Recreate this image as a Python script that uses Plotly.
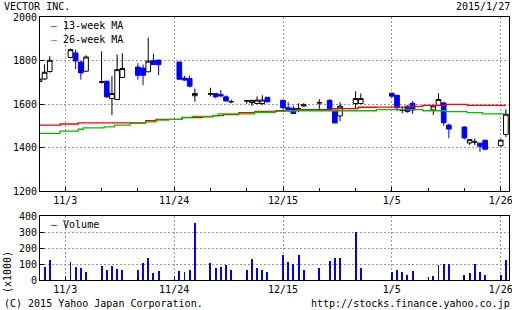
import plotly.graph_objects as go

# ---------------- data ----------------
dates = ["2014-10-29", "2014-10-30", "2014-10-31",
         "2014-11-04", "2014-11-05", "2014-11-06", "2014-11-07",
         "2014-11-10", "2014-11-11", "2014-11-12", "2014-11-13", "2014-11-14",
         "2014-11-17", "2014-11-18", "2014-11-19", "2014-11-20", "2014-11-21",
         "2014-11-25", "2014-11-26", "2014-11-27", "2014-11-28",
         "2014-12-01", "2014-12-02", "2014-12-03", "2014-12-04", "2014-12-05",
         "2014-12-08", "2014-12-09", "2014-12-10", "2014-12-11", "2014-12-12",
         "2014-12-15", "2014-12-16", "2014-12-17", "2014-12-18", "2014-12-19",
         "2014-12-22", "2014-12-24", "2014-12-25", "2014-12-26",
         "2014-12-29", "2014-12-30",
         "2015-01-05", "2015-01-06", "2015-01-07", "2015-01-08", "2015-01-09",
         "2015-01-13", "2015-01-14", "2015-01-15", "2015-01-16",
         "2015-01-19", "2015-01-20", "2015-01-21", "2015-01-22", "2015-01-23",
         "2015-01-26", "2015-01-27"]

open_ = [1703, 1715, 1749,
         1814, 1835, 1793, 1751,
         1700, 1705, 1625, 1621, 1722,
         1770, 1765, 1748, 1800, 1802,
         1793, 1719, 1717, 1638,
         1645, 1648, 1644, 1633, 1610,
         1614, 1606, 1602, 1602, 1631,
         1617, 1583, 1580, 1578, 1591,
         1605, 1617, 1565, 1545,
         1602, 1602,
         1650, 1640, 1571, 1590, 1603,
         1573, 1594, 1605, 1503,
         1494, 1421, 1425, 1420, 1433,
         1408, 1460]
high = [1728, 1783, 1820,
        1855, 1851, 1797, 1824,
        1842, 1706, 1728, 1828, 1834,
        1788, 1782, 1905, 1832, 1803,
        1795, 1730, 1732, 1671,
        1675, 1650, 1665, 1640, 1620,
        1616, 1618, 1635, 1640, 1632,
        1620, 1610, 1592, 1603, 1604,
        1622, 1622, 1580, 1608,
        1659, 1648,
        1650, 1641, 1588, 1594, 1614,
        1592, 1650, 1610, 1510,
        1498, 1437, 1441, 1421, 1437,
        1437, 1575]
low = [1700, 1712, 1745,
       1810, 1760, 1712, 1748,
       1694, 1628, 1549, 1618, 1720,
       1712, 1686, 1746, 1780, 1732,
       1712, 1706, 1676, 1610,
       1635, 1627, 1632, 1612, 1603,
       1601, 1591, 1600, 1595, 1608,
       1574, 1562, 1555, 1563, 1588,
       1574, 1567, 1512, 1522,
       1580, 1600,
       1630, 1567, 1556, 1560, 1554,
       1550, 1590, 1500, 1442,
       1437, 1412, 1411, 1380, 1388,
       1405, 1448]
close = [1715, 1746, 1801,
         1850, 1798, 1743, 1816,
         1702, 1633, 1648, 1758, 1763,
         1732, 1732, 1797, 1782, 1781,
         1714, 1710, 1682, 1648,
         1647, 1633, 1637, 1614, 1611,
         1615, 1617, 1618, 1618, 1610,
         1583, 1570, 1556, 1579, 1596,
         1606, 1572, 1513, 1590,
         1625, 1625,
         1636, 1583, 1572, 1565, 1572,
         1591, 1621, 1514, 1485,
         1444, 1436, 1426, 1406, 1392,
         1434, 1553]

ma13 = [1503, 1503, 1503,
        1508, 1508, 1513, 1513,
        1513, 1513, 1513, 1513, 1513,
        1513, 1513, 1523, 1523, 1529,
        1529, 1537, 1537, 1537,
        1541, 1545, 1547, 1551, 1551,
        1560, 1560, 1566, 1566, 1566,
        1569, 1569, 1569, 1574, 1574,
        1574, 1574, 1579, 1579,
        1579, 1585,
        1586, 1586, 1586, 1586, 1589,
        1594, 1594, 1594, 1598,
        1598, 1594, 1594, 1594, 1594,
        1594, 1594]
ma26 = [1465, 1465, 1465,
        1475, 1475, 1484, 1490,
        1490, 1495, 1495, 1503, 1503,
        1511, 1511, 1518, 1518, 1526,
        1529, 1538, 1538, 1543,
        1543, 1548, 1555, 1555, 1555,
        1555, 1555, 1562, 1562, 1562,
        1566, 1569, 1569, 1569, 1569,
        1569, 1569, 1569, 1569,
        1569, 1569,
        1574, 1574, 1574, 1574, 1574,
        1569, 1569, 1569, 1565,
        1565, 1560, 1560, 1560, 1555,
        1555, 1555]

volume = [48, 79, 126,
          114, 83, 77, 52,
          89, 60, 89, 70, 64,
          64, 108, 139, 46, 58,
          58, 52, 64, 356,
          108, 77, 83, 95, 64,
          64, 133, 77, 64, 52,
          157, 113, 101, 157, 64,
          76, 120, 138, 138,
          301, 76,
          52, 64, 52, 33, 58,
          27, 95, 101, 101,
          33, 45, 101, 52, 33,
          33, 126]

x_tick_dates = ["2014-11-03", "2014-11-24", "2014-12-15", "2015-01-05", "2015-01-26"]
x_tick_labels = ["11/3", "11/24", "12/15", "1/5", "1/26"]
x_minor_dates = ["2014-11-10", "2014-11-17", "2014-12-01", "2014-12-08",
                 "2014-12-22", "2014-12-29", "2015-01-12", "2015-01-19"]
price_ticks = [1200, 1400, 1600, 1800, 2000]
volume_ticks = [0, 100, 200, 300, 400]
x_range = ["2014-10-29 02:51", "2015-01-27 14:26"]

title_text = "VECTOR INC."
date_text = "2015/1/27"
copyright_text = "(C) 2015 Yahoo Japan Corporation."
url_text = "http://stocks.finance.yahoo.co.jp"

# ---------------- layout helpers ----------------
W, H = 512, 310
ML, MR, MT, MB = 40, 3, 17, 30
PW, PH = W - ML - MR, H - MT - MB


def px(x):
    return (x - ML) / PW


def py(y):
    return (H - MB - y) / PH


FONT = "DejaVu Sans Mono"
DAY = 86400000
BLUE = "#0000ff"
RED = "#ff0000"
GREEN = "#00c000"
GRID = "#999999"

fig = go.Figure()

fig.add_trace(go.Candlestick(
    x=dates, open=open_, high=high, low=low, close=close,
    increasing=dict(line=dict(color="black", width=1), fillcolor="white"),
    decreasing=dict(line=dict(color=BLUE, width=1), fillcolor=BLUE),
    whiskerwidth=0, showlegend=False, xaxis="x", yaxis="y", name="VECTOR INC.",
))
fig.add_trace(go.Scatter(
    x=dates, y=ma13, mode="lines", line=dict(color=RED, width=1.3, shape="hvh"),
    name="13-week MA", showlegend=False, xaxis="x", yaxis="y",
))
fig.add_trace(go.Scatter(
    x=dates, y=ma26, mode="lines", line=dict(color=GREEN, width=1.3, shape="hvh"),
    name="26-week MA", showlegend=False, xaxis="x", yaxis="y",
))
fig.add_trace(go.Bar(
    x=dates, y=volume, width=0.18 * DAY, marker=dict(color=BLUE, line=dict(width=0)),
    name="Volume", showlegend=False, xaxis="x2", yaxis="y2",
))

xcommon = dict(
    type="date", range=x_range, tickmode="array", tickvals=x_tick_dates,
    ticktext=x_tick_labels, showgrid=True, gridcolor=GRID, griddash="2px,2px",
    gridwidth=1, ticks="inside", ticklen=4, tickcolor="black",
    minor=dict(tickmode="array", tickvals=x_minor_dates, ticks="inside", ticklen=3,
               tickcolor="black", showgrid=False),
    showline=True, linecolor="black", linewidth=1, mirror=True,
    ticklabeloverflow="allow", automargin=False,
    tickfont=dict(family=FONT, size=10, color="black"), zeroline=False,
    rangeslider=dict(visible=False), fixedrange=True,
)

ycommon = dict(
    showgrid=True, gridcolor=GRID, griddash="2px,2px", gridwidth=1,
    ticks="inside", ticklen=4, tickcolor="black", showline=True,
    linecolor="black", linewidth=1, mirror=True, zeroline=False,
    automargin=False, tickfont=dict(family=FONT, size=10, color="black"),
)

fig.update_layout(
    width=W, height=H, margin=dict(l=ML, r=MR, t=MT, b=MB, pad=0, autoexpand=False),
    paper_bgcolor="white", plot_bgcolor="white",
    showlegend=False, boxgap=0.1, boxgroupgap=0, bargap=0,
    font=dict(family=FONT, size=10, color="black"),
    xaxis=dict(domain=[0, 1], anchor="y", **xcommon),
    xaxis2=dict(domain=[0, 1], anchor="y2", matches="x", **xcommon),
    yaxis=dict(domain=[py(191), 1], anchor="x", range=[1200, 2000],
               tickvals=price_ticks, **ycommon),
    yaxis2=dict(domain=[0, py(216)], anchor="x2", range=[0, 400],
                tickvals=volume_ticks, **ycommon),
    yaxis3=dict(overlaying="y", side="right", anchor="x", range=[1200, 2000],
                tickvals=price_ticks, ticks="outside", ticklen=3, automargin=False,
                tickcolor="black", showticklabels=False, showgrid=False,
                showline=False, zeroline=False),
    yaxis4=dict(overlaying="y2", side="right", anchor="x2", range=[0, 400],
                tickvals=volume_ticks, ticks="outside", ticklen=3, automargin=False,
                tickcolor="black", showticklabels=False, showgrid=False,
                showline=False, zeroline=False),
)

ann = dict(xref="paper", yref="paper", showarrow=False,
           font=dict(family=FONT, size=10, color="black"))
fig.add_annotation(text=title_text, x=px(2), y=py(6.5), xanchor="left", yanchor="middle", **ann)
fig.add_annotation(text=date_text, x=px(512), y=py(6.5), xanchor="right", yanchor="middle", **ann)
fig.add_annotation(text=copyright_text, x=px(2), y=py(303), xanchor="left", yanchor="middle", **ann)
fig.add_annotation(text=url_text, x=px(512), y=py(303), xanchor="right", yanchor="middle", **ann)
fig.add_annotation(text="(x1000)", textangle=-90, x=px(7), y=py(272), xanchor="center",
                   yanchor="middle", **ann)
fig.add_annotation(text="<span style='color:%s'>—</span> 13-week MA" % RED,
                   x=px(49), y=py(25), xanchor="left", yanchor="middle", **ann)
fig.add_annotation(text="<span style='color:%s'>—</span> 26-week MA" % GREEN,
                   x=px(49), y=py(39), xanchor="left", yanchor="middle", **ann)
fig.add_annotation(text="<span style='color:%s'>—</span> Volume" % BLUE,
                   x=px(49), y=py(224), xanchor="left", yanchor="middle", **ann)

fig.write_html("out.html", config={"displayModeBar": False})
